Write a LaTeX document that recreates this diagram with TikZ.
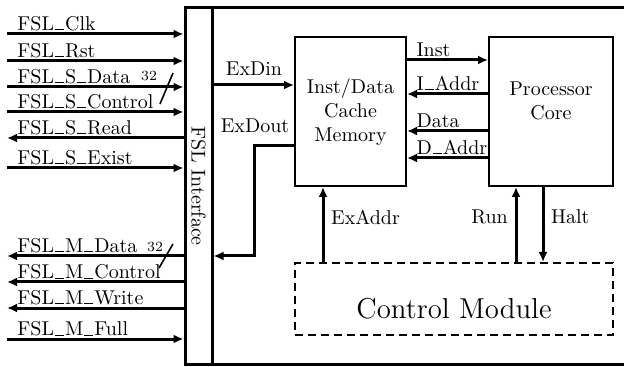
\documentclass[tikz,border=0pt]{standalone}
\usetikzlibrary{arrows.meta}
\newcommand{\usc}{\kern0.05em\rule{0.45em}{0.45pt}\kern0.05em}
\begin{document}
\begin{tikzpicture}[x=0.5pt,y=-0.5pt,>={Latex[length=5pt,width=4.5pt]},
    sig/.style={line width=1.5pt},
    blk/.style={draw,line width=1pt,inner sep=0pt},
    lbl/.style={inner sep=1pt},
    buswidth/.style={font=\scriptsize,inner sep=0pt}]
    \useasboundingbox (0,0) rectangle (624,367);

    % frame and interface
    \draw[line width=1.5pt] (624,8) -| (185,364) -- (624,364);
    \node[draw,line width=1.5pt,minimum width=13.5pt,minimum height=178pt,
        inner sep=0pt] (iface) at (198.5,186) {};
    \node[rotate=-90] (iface-label) at (198.5,186) {FSL Interface};

    % FSL inputs
    \foreach \y/\signame in {34/Clk,61/Rst,87/S\usc Data,112/S\usc Control,
        168/S\usc Exist,339/M\usc Full}{
        \coordinate (in-\y) at (7,\y);
        \draw[sig,->] (in-\y) -- (in-\y -| iface.west);
        \node[lbl,anchor=base west,yshift=1.8pt] (in-label-\y) at (15,\y)
            {FSL\usc\signame};
    }
    % FSL outputs
    \foreach \y/\signame in {138/S\usc Read,256/M\usc Data,282/M\usc Control,
        308/M\usc Write}{
        \coordinate (out-\y) at (7,\y);
        \draw[sig,->] (out-\y -| iface.west) -- (out-\y);
        \node[lbl,anchor=base west,yshift=1.8pt] (out-label-\y) at (15,\y)
            {FSL\usc\signame};
    }

    % bus widths
    \draw[line width=0.8pt] (160,104) -- (173,73);
    \node[buswidth] (s-width) at (149,76) {32};
    \draw[line width=0.8pt] (159,268) -- (173,244);
    \node[buswidth] (m-width) at (155,247) {32};

    % blocks
    \node[blk,minimum width=55.5pt,minimum height=74.5pt]
        (cache) at (350.5,111.5) {};
    \node[align=center] (cache-label) at (350.5,112)
        {Inst/Data\\Cache\\Memory};
    \node[blk,minimum width=62pt,minimum height=74.5pt]
        (core) at (551,111.5) {};
    \node[align=center] (core-label) at (551,101) {Processor\\Core};
    \node[draw,line width=1pt,dash pattern=on 4pt off 2.5pt,
        minimum width=159pt,minimum height=36pt,inner sep=0pt]
        (ctrl) at (454,299) {};
    \node[font=\Large] (ctrl-label) at (454,309) {Control Module};

    % cache <-> core
    \draw[sig,->] (cache.east |- 0,60)
        node[lbl,anchor=base west,xshift=3pt,yshift=1.8pt] (inst-label) {Inst}
        -- (core.west |- 0,60);
    \draw[sig,->] (core.west |- 0,94) -- (cache.east |- 0,94)
        node[lbl,anchor=base west,xshift=3pt,yshift=1.8pt] (iaddr-label) {I\usc Addr};
    \draw[sig,->] (core.west |- 0,131) -- (cache.east |- 0,131)
        node[lbl,anchor=base west,xshift=3pt,yshift=1.8pt] (data-label) {Data};
    \draw[sig,->] (core.west |- 0,158) -- (cache.east |- 0,158)
        node[lbl,anchor=base west,xshift=3pt,yshift=1.8pt] (daddr-label) {D\usc Addr};

    % interface <-> cache
    \draw[sig,->] (iface.east |- 0,85) -- (cache.west |- 0,85);
    \node (exdin-label) at (254,69) {ExDin};
    \coordinate (exdout-bend) at (254,256);
    \draw[sig,->] (cache.west |- 0,146) -| (exdout-bend)
        -- (iface.east |- exdout-bend);
    \node (exdout-label) at (255,126) {ExDout};

    % control module
    \draw[sig,->] (ctrl.north -| 323,0) -- (cache.south -| 323,0)
        node[pos=0.6,right] (exaddr-label) {ExAddr};
    \draw[sig,->] (ctrl.north -| 516,0) -- (core.south -| 516,0)
        node[pos=0.6,left] (run-label) {Run};
    \draw[sig,->] (core.south -| 543,0) -- (ctrl.north -| 543,0)
        node[pos=0.4,right] (halt-label) {Halt};
\end{tikzpicture}
\end{document}
